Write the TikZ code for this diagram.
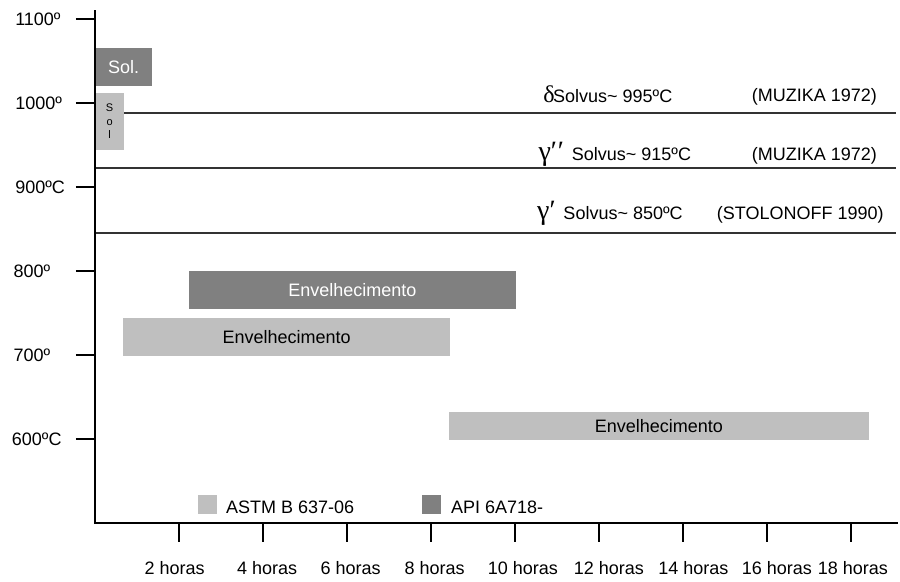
\documentclass[tikz,border=0pt]{standalone}
\usepackage{fontspec}
\setmainfont{Liberation Sans}
\newfontfamily\grk{Liberation Serif}
\definecolor{cinzaesc}{gray}{0.5}
\definecolor{cinzacla}{gray}{0.75}
\tikzset{
  eixo/.style={line width=2pt},
  solvus/.style={line width=2pt, draw=black!80},
  rotulo/.style={inner sep=0pt},
  grego/.style={rotulo, anchor=base west, font=\grk\fontsize{24}{24}\selectfont},
  faixa/.style={inner sep=0pt, outer sep=0pt, anchor=south west},
  escuro/.style={faixa, fill=cinzaesc, text=white},
  claro/.style={faixa, fill=cinzacla, text=black},
}
\begin{document}
\begin{tikzpicture}[x=42pt, y=84pt, font=\fontsize{18}{21}\selectfont]
\useasboundingbox (-2.269,4.313) rectangle (19.160,11.230);

% linhas solvus
\draw[solvus] (0,9.89) -- (19.07,9.89);
\draw[solvus] (0,9.224) -- (19.07,9.224);
\draw[solvus] (0,8.452) -- (19.07,8.452);

\node[grego] (delta) at (10.664,10.012) {δ};
\node[rotulo, anchor=base west] (sdelta) at (10.898,10.012) {Solvus\textasciitilde{} 995ºC};
\node[grego, font=\grk\fontsize{28}{28}\selectfont] (gama2) at (10.548,9.325) {γ′\kern1pt′};
\node[rotulo, anchor=base west] (sgama2) at (11.343,9.325) {Solvus\textasciitilde{} 915ºC};
\node[grego, font=\grk\fontsize{28}{28}\selectfont] (gama1) at (10.517,8.611) {γ′};
\node[rotulo, anchor=base west] (sgama1) at (11.143,8.611) {Solvus\textasciitilde{} 850ºC};
\node[rotulo, anchor=base west] (ref1) at (15.63,10.019) {(MUZIKA 1972)};
\node[rotulo, anchor=base west] (ref2) at (15.63,9.325) {(MUZIKA 1972)};
\node[rotulo, anchor=base west] (ref3) at (14.795,8.611) {(STOLONOFF 1990)};

% faixas de tratamento
\node[escuro, minimum width=56.7pt, minimum height=37.4pt] (solE) at (0,10.21) {Sol.};
\node[claro, minimum width=28.7pt, minimum height=57.4pt, align=center, font=\fontsize{11}{13.5}\selectfont] (solC) at (0,9.44) {S\\o\\l};
\node[escuro, minimum width=327pt, minimum height=38pt] (envE) at (2.231,7.551) {Envelhecimento};
\node[claro, minimum width=326.7pt, minimum height=37.7pt] (envC1) at (0.667,6.995) {Envelhecimento};
\node[claro, minimum width=420pt, minimum height=28.3pt] (envC2) at (8.421,5.992) {Envelhecimento};

% legenda
\node[claro, minimum width=19pt, minimum height=18.7pt] (legC) at (2.445,5.114) {};
\node[rotulo, anchor=base west] (astm) at (3.11,5.119) {ASTM B 637-06};
\node[escuro, minimum width=18.4pt, minimum height=19pt] (legE) at (7.786,5.111) {};
\node[rotulo, anchor=base west] (api) at (8.469,5.119) {API 6A718-};

% eixos
\draw[eixo] (0,11.11) -- (0,5) -- (19.12,5);
\foreach \t in {6,...,11}
  \draw[eixo] (-0.46,\t) -- (0,\t);
\node[rotulo, anchor=west] (t11) at (-1.91,11) {1100º};
\node[rotulo, anchor=west] (t10) at (-1.91,10) {1000º};
\node[rotulo, anchor=west] (t9) at (-1.91,9) {900ºC};
\node[rotulo, anchor=west] (t8) at (-1.95,8) {800º};
\node[rotulo, anchor=west] (t7) at (-1.95,7) {700º};
\node[rotulo, anchor=west] (t6) at (-1.99,6) {600ºC};
\foreach \h/\lx in {2/1.89,4/4.09,6/6.08,8/8.08,10/10.18,12/12.23,14/14.24,16/16.23,18/18.04} {
  \draw[eixo] (\h,5) -- (\h,4.78);
  \node[rotulo, anchor=base] (h\h) at (\lx,4.396) {\h{} horas};
}
\end{tikzpicture}
\end{document}
